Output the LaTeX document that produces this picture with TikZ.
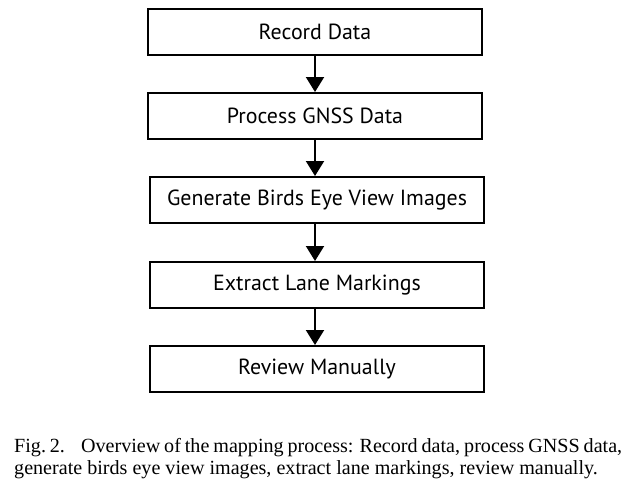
\documentclass[tikz,border=0pt]{standalone}
\usepackage{fontspec}
\setmainfont{Liberation Serif}
\newfontfamily\boxfont{PT Sans}
\usetikzlibrary{arrows.meta}
\begin{document}
\begin{tikzpicture}[x=1pt,y=-1pt,
  stepbox/.style={draw,line width=2pt,minimum width=334pt,minimum height=46pt,inner sep=0pt,font=\boxfont\fontsize{21.9}{24}\selectfont},
  flow/.style={line width=2pt,-{Triangle[width=18pt,length=15pt]}},
  captext/.style={anchor=base west,inner sep=0pt,font=\fontsize{20.1}{22}\selectfont}]
\useasboundingbox (0,0) rectangle (632,485);
\node[stepbox] (a) at (315,31.5) {Record Data};
\node[stepbox] (b) at (315,116) {Process GNSS Data};
\node[stepbox] (c) at (317,200) {Generate Birds Eye View Images};
\node[stepbox] (d) at (317,285) {Extract Lane Markings};
\node[stepbox] (e) at (317,369) {Review Manually};
\draw[flow] (a.south) -- (a.south |- b.north);
\draw[flow] (b.south) -- (b.south |- c.north);
\draw[flow] (c.south -| b.south) -- (b.south |- d.north);
\draw[flow] (d.south -| b.south) -- (b.south |- e.north);
\node[captext] (c1) at (14,452) {\makebox[608pt][s]{Fig.~2.\hspace{0.8em}Overview of the mapping process: Record data, process GNSS data,}};
\node[captext] (c2) at (14,474) {generate birds eye view images, extract lane markings, review manually.};
\end{tikzpicture}
\end{document}
